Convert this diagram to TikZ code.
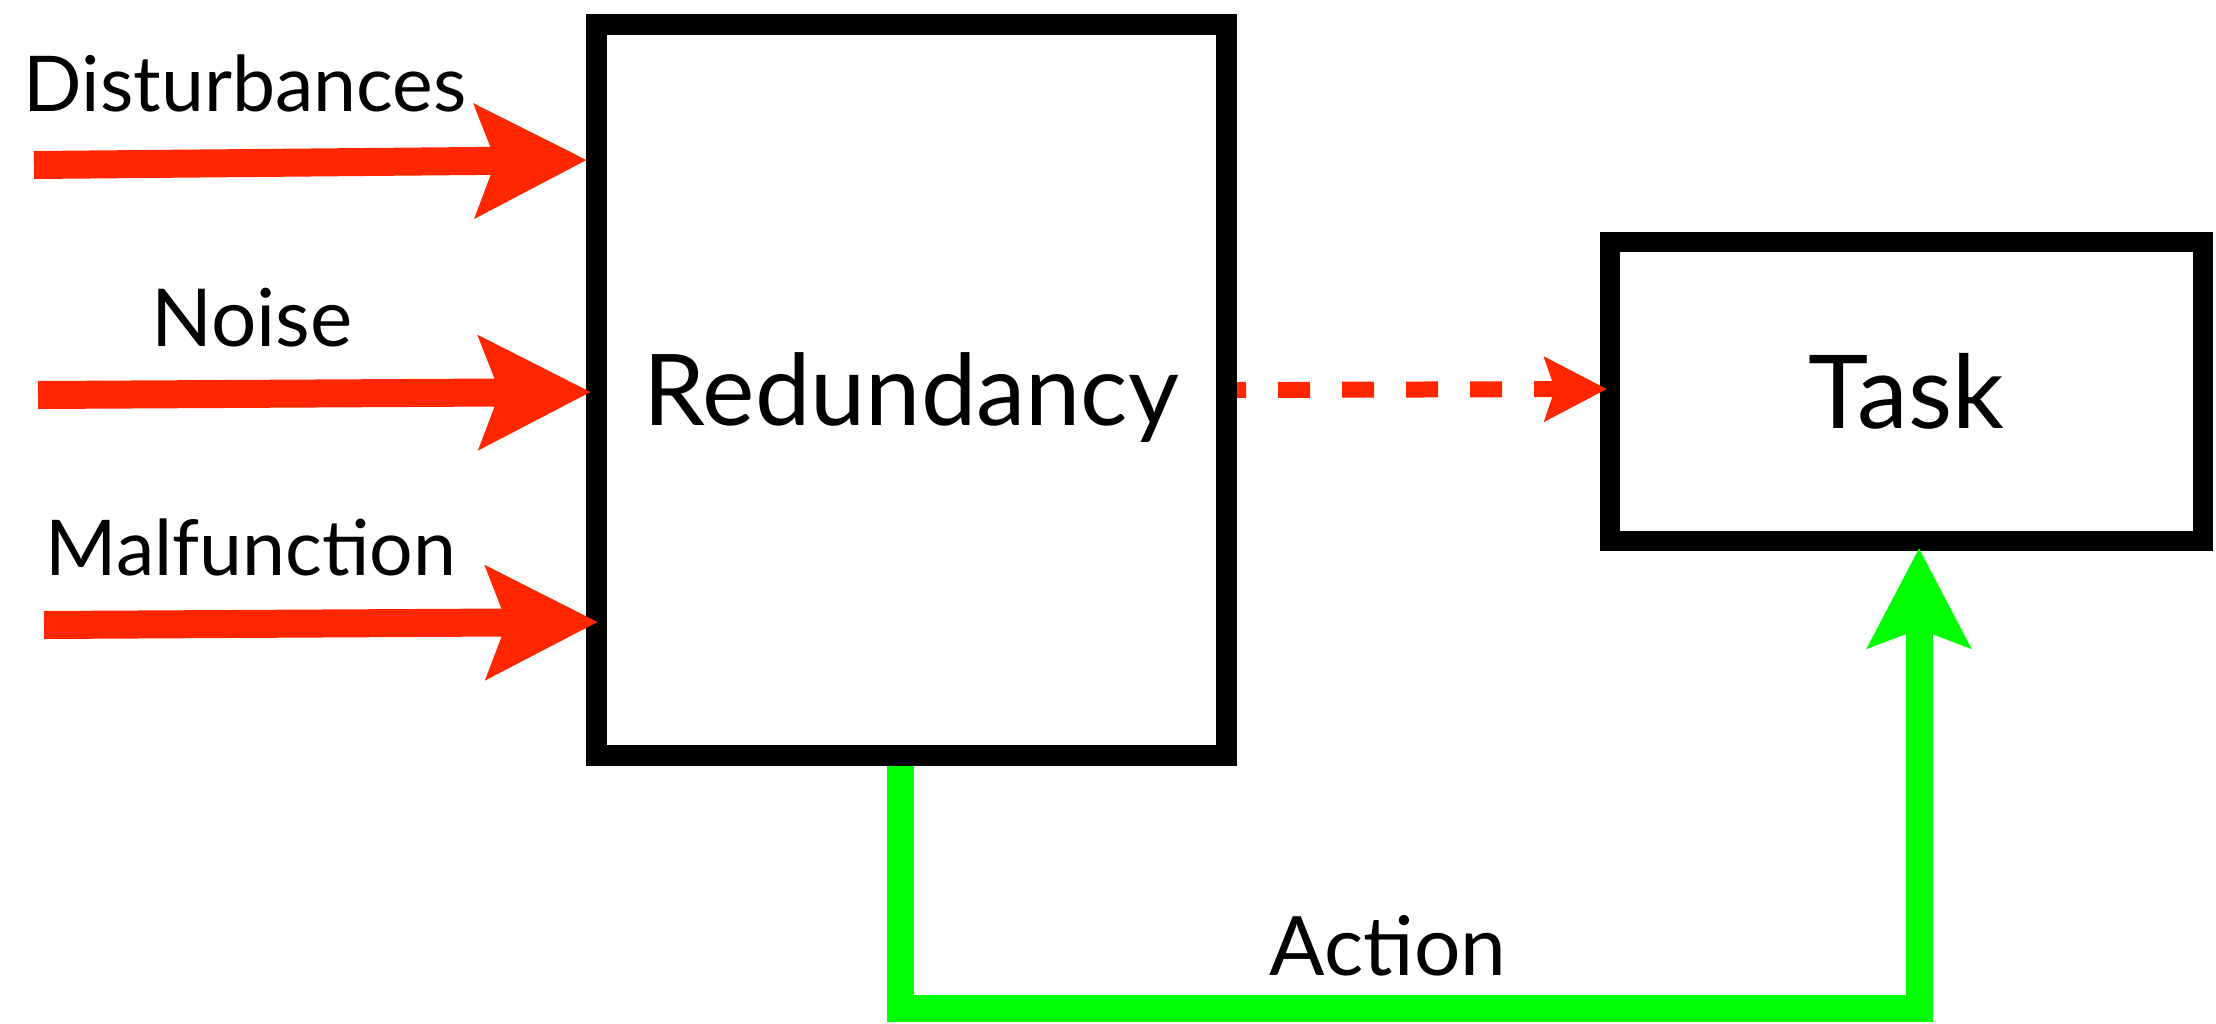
\documentclass[tikz,border=0pt]{standalone}
\usepackage{fontspec}
\setmainfont{Lato}
\usetikzlibrary{arrows.meta,calc}
\definecolor{redarrow}{RGB}{255,38,0}
\definecolor{greenarrow}{RGB}{0,255,0}
\tikzset{
  blockbox/.style={draw=black, line width=21pt, inner sep=0pt, text height=#1, text depth=0pt},
  lbl/.style={inner sep=0pt, anchor=base},
  redin/.style={draw=redarrow, line width=28pt, -{Stealth[length=111pt,width=111pt,inset=20pt]}},
  dashedarrow/.style={draw=redarrow, line width=16pt, dash pattern=on 32pt off 32pt, dash phase=23pt, -{Stealth[length=62pt,width=63pt,inset=10pt]}},
  actionline/.style={draw=greenarrow, line width=27pt, line join=miter, -{Stealth[length=99pt,width=101pt,inset=18pt]}}
}
\begin{document}
\begin{tikzpicture}[x=1pt,y=-1pt]
\fill[white] (0,0) rectangle (2216,1023);
\useasboundingbox (0,0) rectangle (2216,1023);

\node[blockbox=71pt, minimum width=630pt, minimum height=731pt, font=\fontsize{99}{100}\selectfont] (R) at (911.5,390) {Redundancy};
\node[blockbox=73pt, line width=20pt, minimum width=593pt, minimum height=299pt, font=\fontsize{102}{104}\selectfont] (T) at (1906.5,391.5) {Task};

\node[lbl, font=\fontsize{77}{80}\selectfont] (dist) at (245,111) {Disturbances};
\node[lbl, font=\fontsize{80}{82}\selectfont] (noise) at (252,346) {Noise};
\node[lbl, font=\fontsize{77}{80}\selectfont] (malf) at (251,575) {Malfunction};
\node[lbl, font=\fontsize{82}{84}\selectfont] (action) at (1388,975) {Action};

\coordinate (d0) at (34,165);
\coordinate (n0) at (38,395);
\coordinate (m0) at (44,625);
\draw[redin] (d0) -- ($(R.west |- 0,160)+(1,0)$);
\draw[redin] (n0) -- ($(R.west |- 0,392)+(5,0)$);
\draw[redin] (m0) -- ($(R.west |- 0,622)+(12,0)$);

\draw[dashedarrow] (R.east |- 0,390) -- ($(T.west |- 0,389)+(7,0)$);

\coordinate (gl) at (900,1008);
\coordinate (gr) at (1919,1008);
\draw[actionline] (gl |- R.south) -- (gl) -- (gr) -- ($(gr |- T.south)+(0,-3)$);
\end{tikzpicture}
\end{document}
